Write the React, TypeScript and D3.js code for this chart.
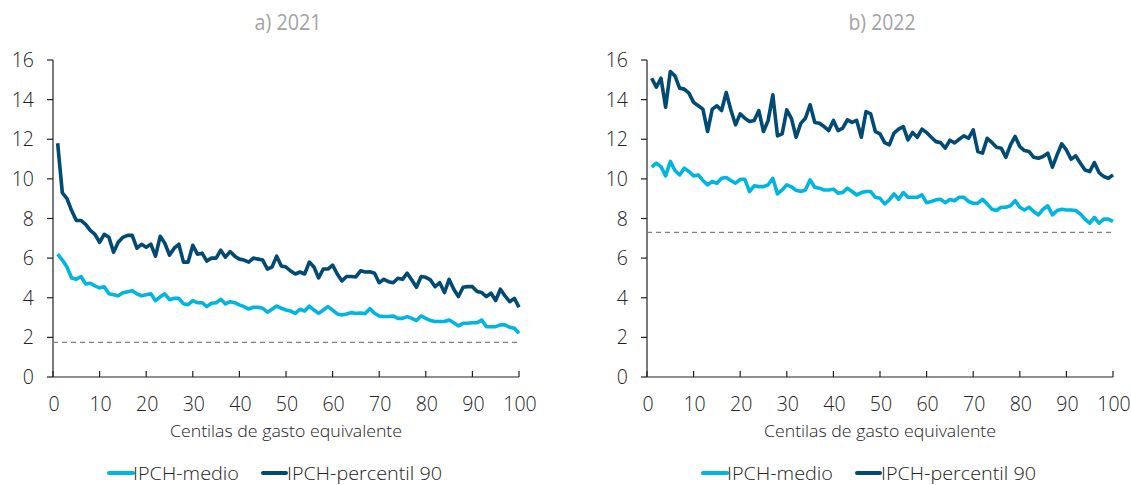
import * as d3 from "d3";

// centiles of equivalent spending (x)
const centiles = d3.range(1, 101);
const xTicks = [0, 10, 20, 30, 40, 50, 60, 70, 80, 90, 100];
const yTicks = [0, 2, 4, 6, 8, 10, 12, 14, 16];

const titles = ["a) 2021", "b) 2022"];
const seriesNames = ["IPCH-medio", "IPCH-percentil 90"];

const medio2021 = [
  6.2, 5.9, 5.55, 5.0, 4.93, 5.07, 4.7, 4.73, 4.6, 4.5, 4.55, 4.2, 4.15, 4.1, 4.25, 4.3, 4.35, 4.2, 4.1, 4.15,
  4.2, 3.85, 4.05, 4.2, 3.9, 3.97, 3.97, 3.7, 3.65, 3.85, 3.75, 3.75, 3.55, 3.72, 3.75, 3.92, 3.69, 3.8, 3.75, 3.64,
  3.55, 3.43, 3.52, 3.52, 3.47, 3.27, 3.42, 3.58, 3.47, 3.38, 3.33, 3.21, 3.42, 3.33, 3.58, 3.38, 3.21, 3.38, 3.55, 3.38,
  3.18, 3.13, 3.18, 3.25, 3.21, 3.23, 3.2, 3.45, 3.22, 3.08, 3.05, 3.05, 3.08, 2.96, 2.96, 3.05, 2.96, 2.85, 3.08, 2.96,
  2.85, 2.8, 2.8, 2.8, 2.88, 2.74, 2.58, 2.71, 2.71, 2.74, 2.74, 2.88, 2.54, 2.54, 2.54, 2.63, 2.63, 2.51, 2.46, 2.2,
];
const p90_2021 = [
  11.8, 9.3, 9.0, 8.4, 7.9, 7.9, 7.7, 7.4, 7.2, 6.8, 7.2, 7.05, 6.3, 6.8, 7.05, 7.15, 7.15, 6.5, 6.7, 6.55,
  6.7, 6.1, 7.1, 6.75, 6.15, 6.5, 6.7, 5.8, 5.8, 6.65, 6.2, 6.25, 5.85, 6.0, 6.0, 6.4, 6.05, 6.33, 6.1, 5.95,
  5.9, 5.8, 6.0, 5.95, 5.9, 5.45, 5.55, 6.1, 5.6, 5.55, 5.35, 5.2, 5.3, 5.2, 5.8, 5.55, 5.0, 5.45, 5.45, 5.65,
  5.2, 4.85, 5.07, 5.07, 5.05, 5.36, 5.3, 5.31, 5.24, 4.76, 4.93, 4.81, 4.76, 4.98, 4.93, 5.24, 4.9, 4.53, 5.07, 5.03,
  4.9, 4.56, 4.76, 4.26, 4.93, 4.43, 4.06, 4.53, 4.56, 4.56, 4.31, 4.26, 4.06, 4.23, 3.86, 4.43, 4.09, 3.8, 3.97, 3.52,
];
const medio2022 = [
  10.59, 10.79, 10.62, 10.15, 10.88, 10.42, 10.2, 10.54, 10.37, 10.15, 10.2, 9.92, 9.7, 9.87, 9.78, 10.03, 10.07, 9.92, 9.78, 9.98,
  9.98, 9.36, 9.65, 9.61, 9.61, 9.7, 10.03, 9.24, 9.44, 9.7, 9.6, 9.42, 9.36, 9.44, 9.95, 9.58, 9.53, 9.44, 9.44, 9.48,
  9.28, 9.31, 9.53, 9.36, 9.19, 9.31, 9.36, 9.36, 9.07, 9.02, 8.74, 8.94, 9.24, 8.97, 9.31, 9.07, 9.07, 9.07, 9.19, 8.8,
  8.86, 8.94, 8.97, 8.8, 8.96, 8.9, 9.07, 9.07, 8.86, 8.77, 8.77, 8.97, 8.74, 8.47, 8.4, 8.57, 8.57, 8.64, 8.9, 8.57,
  8.43, 8.57, 8.35, 8.18, 8.47, 8.64, 8.18, 8.4, 8.47, 8.43, 8.43, 8.4, 8.23, 7.97, 7.76, 8.06, 7.76, 7.97, 7.97, 7.85,
];
const p90_2022 = [
  15.08, 14.63, 15.08, 13.62, 15.42, 15.2, 14.58, 14.53, 14.33, 13.86, 13.69, 13.52, 12.39, 13.52, 13.69, 13.45, 14.36, 13.48, 12.73, 13.28,
  13.06, 12.9, 12.95, 13.45, 12.39, 12.95, 14.24, 12.17, 12.27, 13.48, 13.04, 12.1, 12.8, 13.06, 13.74, 12.85, 12.81, 12.64, 12.44, 12.95,
  12.44, 12.56, 12.98, 12.85, 12.95, 12.1, 13.4, 13.28, 12.39, 12.27, 11.83, 11.72, 12.31, 12.51, 12.64, 11.97, 12.34, 12.1, 12.51, 12.34,
  12.1, 11.88, 11.83, 11.55, 11.95, 11.82, 12.0, 12.17, 12.05, 12.47, 11.38, 11.3, 12.05, 11.84, 11.6, 11.55, 11.09, 11.72, 12.14, 11.63,
  11.43, 11.38, 11.09, 11.04, 11.13, 11.3, 10.59, 11.21, 11.77, 11.46, 10.99, 11.16, 10.79, 10.45, 10.37, 10.82, 10.32, 10.12, 10.03, 10.2,
];
// dashed reference levels
const refLevels = [1.75, 7.3];

const medioColor = "#00b6e0";
const p90Color = "#004a73";
const font = "'Open Sans', 'Noto Sans', sans-serif";

const panels = [
  { title: titles[0], medio: medio2021, p90: p90_2021, ref: refLevels[0], left: 53, right: 519 },
  { title: titles[1], medio: medio2022, p90: p90_2022, ref: refLevels[1], left: 647, right: 1113 },
];

const Panel = ({ p }: { p: (typeof panels)[number] }) => {
  const x = d3.scaleLinear().domain([0, 100]).range([p.left, p.right]);
  const y = d3.scaleLinear().domain([0, 16]).range([377, 60]);
  const line = d3
    .line<number>()
    .x((_, i) => x(centiles[i]))
    .y((d) => y(d));
  const mid = (p.left + p.right) / 2;
  const txt = { fontFamily: font, fontWeight: 300 } as const;

  return (
    <g>
      <text x={mid + 2} y={30} textAnchor="middle" fontSize={22} fill="#a3a3a3" fontWeight={400}
        textLength={67} lengthAdjust="spacingAndGlyphs" style={{ fontFamily: font }}>
        {p.title}
      </text>

      {/* y axis */}
      <line x1={x(0)} x2={x(0)} y1={y(0)} y2={y(16)} stroke="#222" strokeWidth={1.2} />
      {yTicks.map((t) => (
        <g key={t}>
          <line x1={x(0) - 6} x2={x(0)} y1={y(t)} y2={y(t)} stroke="#222" strokeWidth={1.2} />
          <text x={x(0) - 19} y={y(t)} dy="0.36em" textAnchor="end" fontSize={19.5} fill="#222" style={txt}>
            {t}
          </text>
        </g>
      ))}

      {/* x axis */}
      <line x1={x(0)} x2={x(100)} y1={y(0)} y2={y(0)} stroke="#222" strokeWidth={1.2} />
      {xTicks.map((t) => (
        <g key={t}>
          <line x1={x(t)} x2={x(t)} y1={y(0)} y2={y(0) - 6} stroke="#222" strokeWidth={1.2} />
          <text x={x(t) + 1} y={y(0) + 34} textAnchor="middle" fontSize={19.5} fill="#222" style={txt}>
            {t}
          </text>
        </g>
      ))}
      <text x={mid} y={431} dy="0.36em" textAnchor="middle" fontSize={16} fill="#222" style={txt}
        textLength={232} lengthAdjust="spacingAndGlyphs">
        Centilas de gasto equivalente
      </text>

      {/* dashed reference */}
      <line x1={x(0)} x2={x(100)} y1={y(p.ref)} y2={y(p.ref)} stroke="#7f7f7f" strokeWidth={1.3}
        strokeDasharray="5,4" />

      <path d={line(p.medio) ?? ""} fill="none" stroke={medioColor} strokeWidth={3.6} strokeLinejoin="round" />
      <path d={line(p.p90) ?? ""} fill="none" stroke={p90Color} strokeWidth={3.6} strokeLinejoin="round" />

      {/* legend */}
      <g transform={`translate(${mid - 177},473)`}>
        <line x1={0} x2={24} y1={0} y2={0} stroke={medioColor} strokeWidth={4} strokeLinecap="round" />
        <text x={24} y={0} dy="0.36em" fontSize={19} fill="#222" style={txt}
          textLength={106} lengthAdjust="spacingAndGlyphs">
          {seriesNames[0]}
        </text>
        <line x1={154} x2={177} y1={0} y2={0} stroke={p90Color} strokeWidth={4} strokeLinecap="round" />
        <text x={178} y={0} dy="0.36em" fontSize={19} fill="#222" style={txt}
          textLength={155} lengthAdjust="spacingAndGlyphs">
          {seriesNames[1]}
        </text>
      </g>
    </g>
  );
};

export default function App() {
  return (
    <svg width={1131} height={485} style={{ position: "absolute", left: 0, top: 0, background: "#fff" }}>
      {panels.map((p) => (
        <Panel key={p.title} p={p} />
      ))}
    </svg>
  );
}
